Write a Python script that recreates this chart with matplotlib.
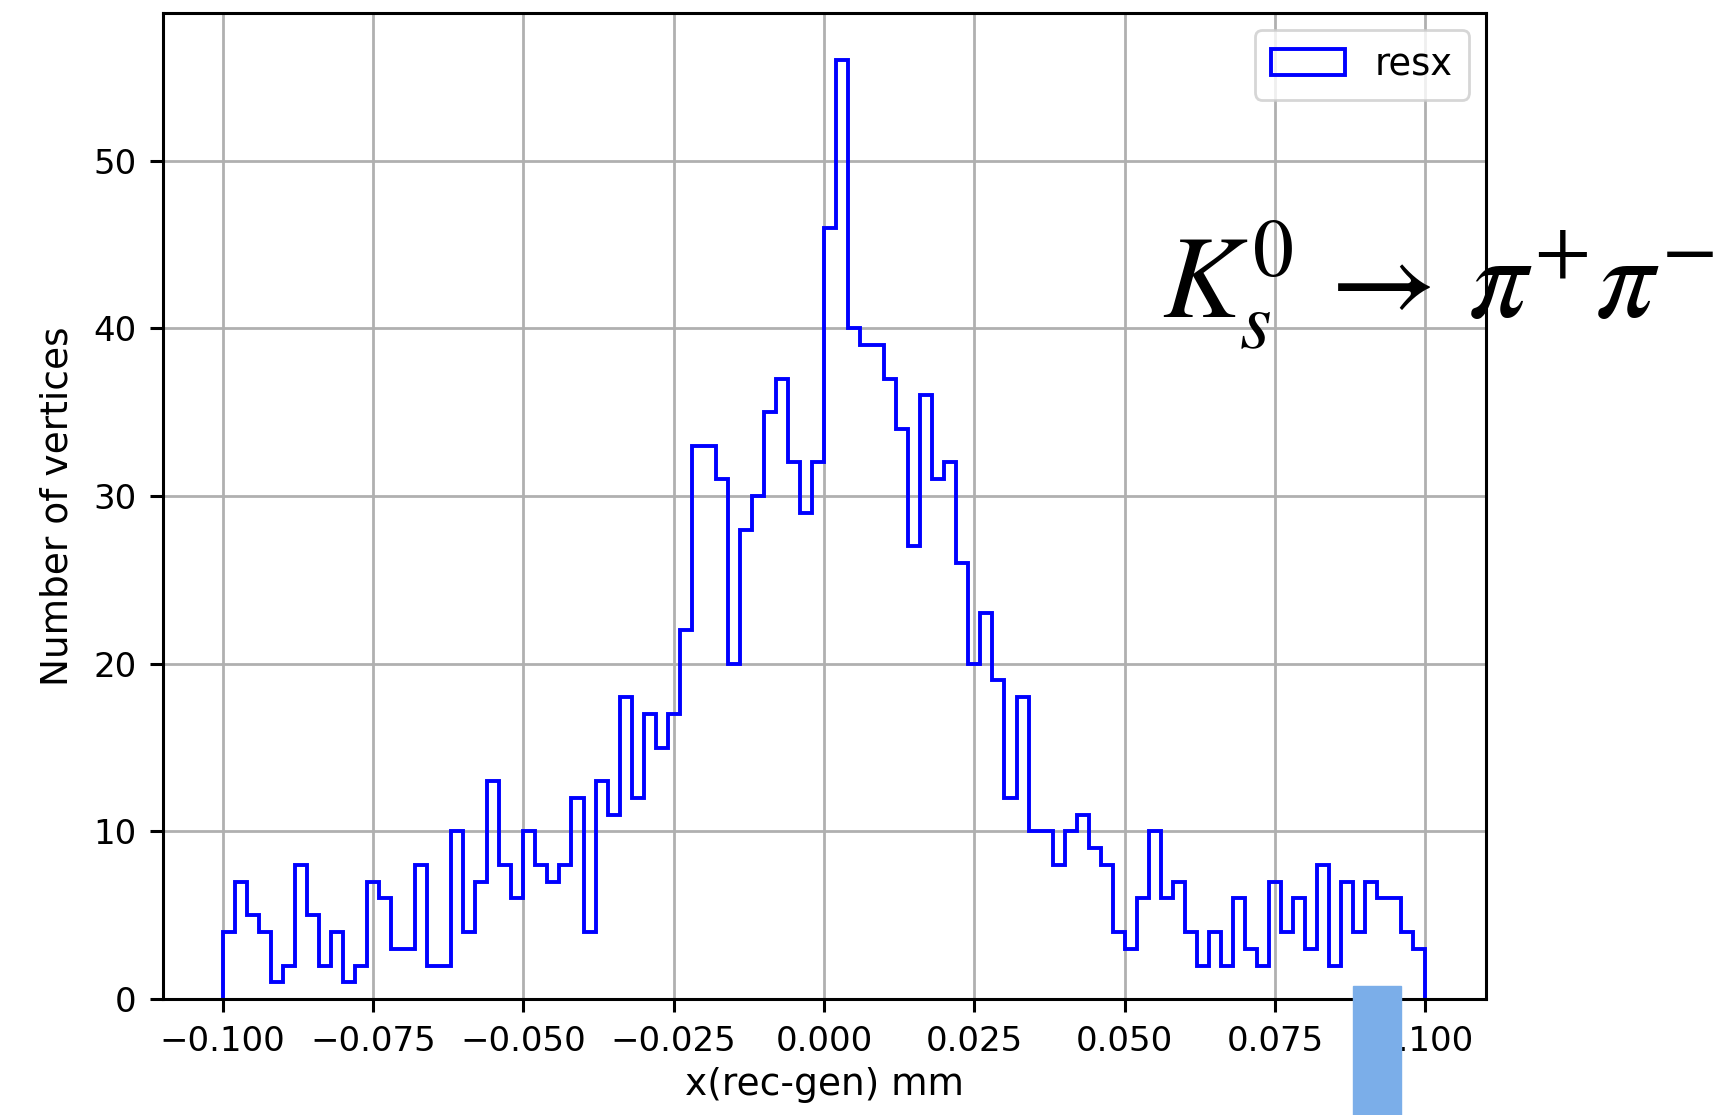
import numpy as np
import matplotlib
matplotlib.use("Agg")
import matplotlib.pyplot as plt
from matplotlib.patches import Rectangle

# histogram contents (100 bins from -0.1 to 0.1 mm)
x_min, x_max, n_bins = -0.1, 0.1, 100
counts = [
    4, 7, 5, 4, 1, 2, 8, 5, 2, 4,
    1, 2, 7, 6, 3, 3, 8, 2, 2, 10,
    4, 7, 13, 8, 6, 10, 8, 7, 8, 12,
    4, 13, 11, 18, 12, 17, 15, 17, 22, 33,
    33, 31, 20, 28, 30, 35, 37, 32, 29, 32,
    46, 56, 40, 39, 39, 37, 34, 27, 36, 31,
    32, 26, 20, 23, 19, 12, 18, 10, 10, 8,
    10, 11, 9, 8, 4, 3, 6, 10, 6, 7,
    4, 2, 4, 2, 6, 3, 2, 7, 4, 6,
    3, 8, 2, 7, 4, 7, 6, 6, 4, 3,
]
label = "resx"

edges = np.linspace(x_min, x_max, n_bins + 1)
centres = 0.5 * (edges[:-1] + edges[1:])

plt.rcParams["mathtext.fontset"] = "stix"

fig = plt.figure(figsize=(17.22, 11.15), dpi=100)
ax = fig.add_axes([0.0944, 0.104, 0.7683, 0.8843])

ax.hist(centres, bins=edges, weights=counts, histtype="step",
        color="blue", linewidth=2.8, label=label)

ax.grid(True, color="#b0b0b0", linewidth=2.0)
ax.set_axisbelow(True)
for s in ax.spines.values():
    s.set_linewidth(2.2)
ax.tick_params(labelsize=24.5, width=2.2, length=9.5, pad=9)
ax.set_xlabel("x(rec-gen) mm", fontsize=27, labelpad=7)
ax.set_ylabel("Number of vertices", fontsize=27, labelpad=13)

leg = ax.legend(loc="upper right", fontsize=26.5, borderpad=0.45,
                handlelength=2.0, handleheight=0.7, borderaxespad=0.45,
                framealpha=0.8)
leg.get_frame().set_linewidth(2.0)

# pasted-on annotation and the stray blue block at the bottom
fig.text(0.675, 0.715, r"$K_s^0\,\rightarrow\,\pi^{+}\pi^{-}$",
         fontsize=84, color="black", ha="left", va="baseline")
fig.patches.append(Rectangle((1353 / 1722, 0.0), 48 / 1722, 129 / 1115,
                             transform=fig.transFigure, color="#7baee9",
                             zorder=10))

fig.savefig("out.png", dpi=100)
